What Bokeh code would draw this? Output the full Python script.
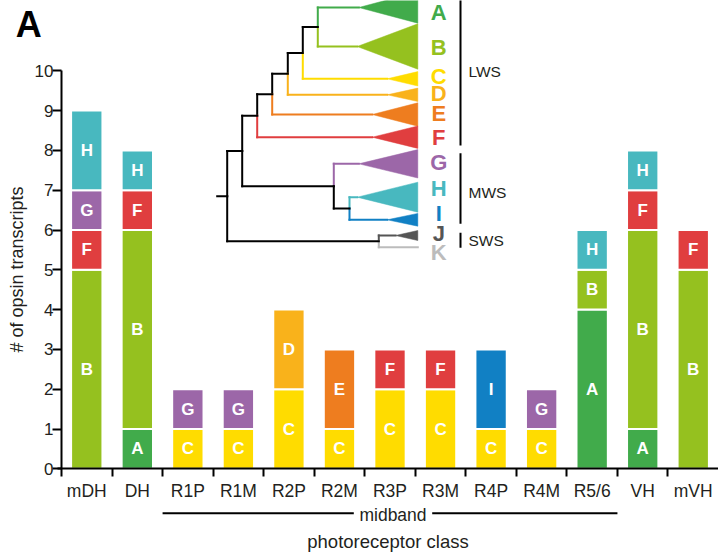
from bokeh.plotting import figure
from bokeh.models import Range1d, FixedTicker, ColumnDataSource
from bokeh.core.properties import value
from bokeh.embed import file_html
from bokeh.resources import INLINE

FONT = "Liberation Sans"
INK = "#231f20"

# ---------------- data ----------------
categories = ["mDH", "DH", "R1P", "R1M", "R2P", "R2M", "R3P", "R3M",
              "R4P", "R4M", "R5/6", "VH", "mVH"]
opsins = ["A", "B", "C", "D", "E", "F", "G", "H", "I"]
# transcripts per photoreceptor class for each opsin (stacked A..I bottom->top)
A = [0, 1, 0, 0, 0, 0, 0, 0, 0, 0, 4, 1, 0]
B = [5, 5, 0, 0, 0, 0, 0, 0, 0, 0, 1, 5, 5]
C = [0, 0, 1, 1, 2, 1, 2, 2, 1, 1, 0, 0, 0]
D = [0, 0, 0, 0, 2, 0, 0, 0, 0, 0, 0, 0, 0]
E = [0, 0, 0, 0, 0, 2, 0, 0, 0, 0, 0, 0, 0]
F = [1, 1, 0, 0, 0, 0, 1, 1, 0, 0, 0, 1, 1]
G = [1, 0, 1, 1, 0, 0, 0, 0, 0, 1, 0, 0, 0]
H = [2, 1, 0, 0, 0, 0, 0, 0, 0, 0, 1, 1, 0]
I = [0, 0, 0, 0, 0, 0, 0, 0, 2, 0, 0, 0, 0]
series = [A, B, C, D, E, F, G, H, I]
y_ticks = list(range(0, 11))
midband_span = (2, 11)          # R1P .. R4M

opsin_colors = {
    "A": "#41ab4b", "B": "#95c11f", "C": "#ffdc00", "D": "#f9b21b",
    "E": "#ee7d1f", "F": "#e03e3f", "G": "#9c67a8", "H": "#48b8bf",
    "I": "#1180c4", "J": "#555555", "K": "#bcbcbc",
}

# ---------------- inset tree (layout in inset pixels) ----------------
tree_leaves = ["A", "B", "C", "D", "E", "F", "G", "H", "I", "J", "K"]
leaf_y = [7, 46, 78.3, 94.3, 114, 136.7, 163.3, 196.7, 219.3, 235, 246.7]
leaf_tip = [358.3, 356.7, 386.7, 386.7, 371.7, 371.7, 358.3, 356.7, 386.7, 395, 417.3]
leaf_half = [15.7, 22.7, 7.2, 6.7, 11.7, 11.2, 14.2, 15, 6.4, 5, 0]
letter_y = [11.5, 46.7, 76, 93.3, 113.3, 136.7, 161.7, 188.3, 213.3, 233.3, 251.7]
tree = (226.7, [
    (241.7, [
        (256.7, [(271.7, [(287.3, [(302.3, [(317.3, ["A", "B"]), "C"]), "D"]), "E"]), "F"]),
        (333.3, ["G", (349.0, ["H", "I"])]),
    ]),
    (378.3, ["J", "K"]),
])
tri_right = 417.3
root_stub = 216.7
letter_x = 438.3
bracket_x = 460
groups = ["LWS", "MWS", "SWS"]
group_span = [(-10, 145), (152.7, 223.3), (232.3, 247.3)]
group_y = [70.7, 192.3, 240]

# mapping page pixels -> data coordinates
X0, XS = 61.0, 50.54
Y0, YS = 468.3, 39.8
W, H_ = 718, 553


def tx(px):
    return (px - X0) / XS


def ty(py):
    return (Y0 - py) / YS


# ---------------- figure (frame fills the whole canvas) ----------------
p = figure(width=W, height=H_, output_backend="svg", toolbar_location=None,
           x_range=Range1d(tx(0), tx(W)), y_range=Range1d(ty(H_), ty(0)),
           min_border_left=0, min_border_right=0, min_border_top=0,
           min_border_bottom=0)
p.outline_line_color = None
p.xgrid.visible = False
p.ygrid.visible = False
p.background_fill_color = "white"

# stacked bars
seg = dict(x=[], bottom=[], top=[], mid=[], opsin=[], color=[])
for ci, cat in enumerate(categories):
    base = 0
    for name, vals in zip(opsins, series):
        v = vals[ci]
        if v > 0:
            seg["x"].append(ci + 0.5)
            seg["bottom"].append(base)
            seg["top"].append(base + v)
            seg["mid"].append(base + v / 2)
            seg["opsin"].append(name)
            seg["color"].append(opsin_colors[name])
            base += v
src = ColumnDataSource(seg)
p.vbar(x="x", width=0.62, bottom="bottom", top="top", fill_color="color",
       line_color="white", line_width=2, source=src)
p.text(x="x", y="mid", text="opsin", text_color="white", text_font=value(FONT),
       text_font_style="bold", text_font_size="17px", text_align="center",
       text_baseline="middle", source=src)

# tree
tsegs = dict(x0=[], y0=[], x1=[], y1=[], c=[])


def add(x0, y0, x1, y1, c):
    tsegs["x0"].append(tx(x0)); tsegs["y0"].append(ty(y0))
    tsegs["x1"].append(tx(x1)); tsegs["y1"].append(ty(y1))
    tsegs["c"].append(c)


def layout(node):
    if isinstance(node, str):
        i = tree_leaves.index(node)
        return leaf_y[i], opsin_colors[node], leaf_tip[i]
    x, children = node
    info = [layout(ch) for ch in children]
    y = sum(inf[0] for inf in info) / len(info)
    for cy, cc, cx in info:
        add(x, cy, cx, cy, cc)
        add(x, y, x, cy, cc)
    return y, "black", x


ry, _, rx = layout(tree)
add(root_stub, ry, rx, ry, "black")
p.segment(x0="x0", y0="y0", x1="x1", y1="y1", line_color="c", line_width=2,
          line_cap="square", source=ColumnDataSource(tsegs))

txs, tys, tcs = [], [], []
for i, name in enumerate(tree_leaves):
    if leaf_half[i] > 0:
        txs.append([tx(leaf_tip[i]), tx(tri_right), tx(tri_right)])
        tys.append([ty(leaf_y[i]), ty(leaf_y[i] - leaf_half[i]), ty(leaf_y[i] + leaf_half[i])])
        tcs.append(opsin_colors[name])
p.patches(xs=txs, ys=tys, fill_color=tcs, line_color=tcs, line_width=0.5)

p.text(x=[tx(letter_x)] * len(tree_leaves), y=[ty(v) for v in letter_y],
       text=tree_leaves, text_color=[opsin_colors[n] for n in tree_leaves],
       text_font=value(FONT), text_font_style="bold", text_font_size="22px",
       text_align="center", text_baseline="middle")

p.segment(x0=[tx(bracket_x)] * 3, x1=[tx(bracket_x)] * 3,
          y0=[ty(a) for a, b in group_span], y1=[ty(b) for a, b in group_span],
          line_color="black", line_width=2)
p.text(x=[tx(bracket_x + 8)] * 3, y=[ty(v) for v in group_y], text=groups,
       text_color=INK, text_font=value(FONT), text_font_size="15.5px",
       text_align="left", text_baseline="middle")

# axes, pinned at x = 0 / y = 0 inside the full-canvas frame
xa = p.xaxis[0]
xa.fixed_location = 0
xa.bounds = (-0.08, len(categories))
xa.ticker = FixedTicker(ticks=[i + 0.5 for i in range(len(categories))],
                        minor_ticks=list(range(len(categories) + 1)))
xa.major_label_overrides = {i + 0.5: c for i, c in enumerate(categories)}
xa.major_tick_out = 0
xa.major_tick_in = 0
xa.minor_tick_out = 8
xa.minor_tick_in = 0
xa.minor_tick_line_width = 2
xa.minor_tick_line_color = "black"
xa.axis_line_width = 2
xa.axis_line_color = "black"
xa.major_label_text_font = FONT
xa.major_label_text_font_size = "17.5px"
xa.major_label_text_color = INK
xa.major_label_standoff = 4
xa.axis_label = "photoreceptor class"
xa.axis_label_text_font = FONT
xa.axis_label_text_font_style = "normal"
xa.axis_label_text_font_size = "18.5px"
xa.axis_label_text_color = INK
xa.axis_label_standoff = 27

ya = p.yaxis[0]
ya.fixed_location = 0
ya.ticker = FixedTicker(ticks=y_ticks, minor_ticks=[])
ya.bounds = (0, 10)
ya.major_tick_out = 9
ya.major_tick_in = 0
ya.minor_tick_out = 0
ya.minor_tick_in = 0
ya.major_tick_line_width = 2
ya.axis_line_width = 2
ya.axis_line_color = "black"
ya.major_label_text_font = FONT
ya.major_label_text_font_size = "17px"
ya.major_label_text_color = INK
ya.major_label_standoff = -1
ya.axis_label = "# of opsin transcripts"
ya.axis_label_text_font = FONT
ya.axis_label_text_font_style = "normal"
ya.axis_label_text_font_size = "18px"
ya.axis_label_text_color = INK
ya.axis_label_standoff = 5

# midband bracket under the R classes
mid_line_y = ty(512.7)
mid_text_x = tx(392.5)
gap = (427.7 - 357.3) / 2 / XS + 4 / XS
p.segment(x0=[midband_span[0], mid_text_x + gap], x1=[mid_text_x - gap, midband_span[1]],
          y0=[mid_line_y] * 2, y1=[mid_line_y] * 2, line_color="black", line_width=2)
p.text(x=[mid_text_x], y=[ty(514.5)], text=["midband"], text_font=value(FONT),
       text_font_size="17.5px", text_color=INK, text_align="center",
       text_baseline="middle")

# panel letter
p.text(x=[tx(28.3)], y=[ty(24)], text=["A"], text_font=value(FONT),
       text_font_style="bold", text_font_size="36px", text_color="black",
       text_align="center", text_baseline="middle")

open("out.html", "w").write(file_html(p, INLINE))
